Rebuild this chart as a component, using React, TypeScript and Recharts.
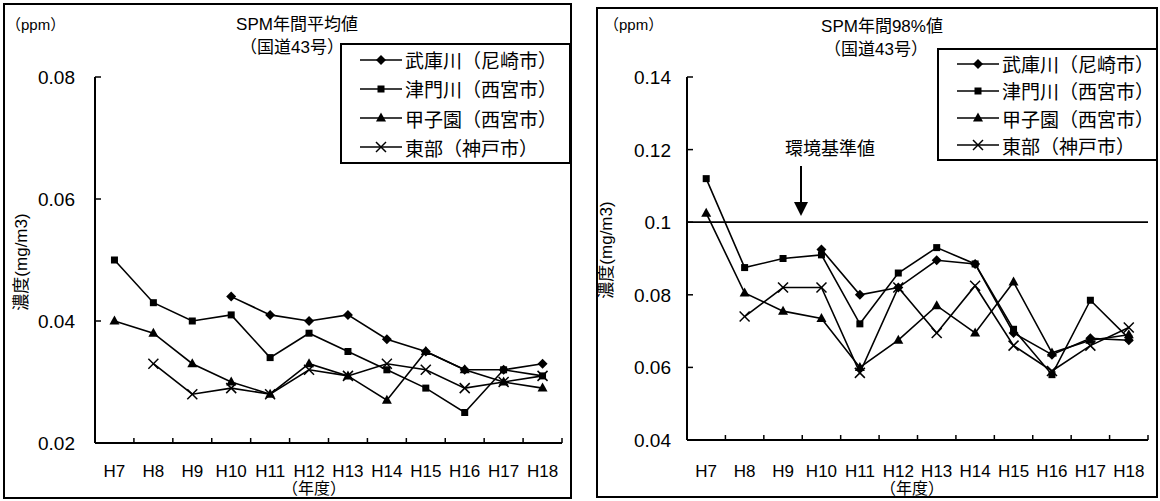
import React from 'react'
import { LineChart, Line, XAxis, YAxis, ReferenceLine } from 'recharts'

const years = ['H7', 'H8', 'H9', 'H10', 'H11', 'H12', 'H13', 'H14', 'H15', 'H16', 'H17', 'H18']
const stations = ['武庫川（尼崎市）', '津門川（西宮市）', '甲子園（西宮市）', '東部（神戸市）']
const markers = ['diamond', 'square', 'triangle', 'cross']

// SPM 年間平均値 (mg/m3)
const avgMukogawa = [null, null, null, 0.044, 0.041, 0.04, 0.041, 0.037, 0.035, 0.032, 0.032, 0.033]
const avgTsutogawa = [0.05, 0.043, 0.04, 0.041, 0.034, 0.038, 0.035, 0.032, 0.029, 0.025, 0.032, 0.031]
const avgKoshien = [0.04, 0.038, 0.033, 0.03, 0.028, 0.033, 0.031, 0.027, 0.035, 0.032, 0.03, 0.029]
const avgTobu = [null, 0.033, 0.028, 0.029, 0.028, 0.032, 0.031, 0.033, 0.032, 0.029, 0.03, 0.031]

// SPM 年間98%値 (mg/m3)
const p98Mukogawa = [null, null, null, 0.0925, 0.08, 0.082, 0.0895, 0.0885, 0.0695, 0.0635, 0.068, 0.0675]
const p98Tsutogawa = [0.112, 0.0875, 0.09, 0.091, 0.072, 0.086, 0.093, 0.0885, 0.0705, 0.058, 0.0785, 0.068]
const p98Koshien = [0.1025, 0.0805, 0.0755, 0.0735, 0.06, 0.0675, 0.077, 0.0695, 0.0835, 0.064, 0.0675, 0.069]
const p98Tobu = [null, 0.074, 0.082, 0.082, 0.0585, 0.082, 0.0695, 0.0825, 0.066, 0.059, 0.066, 0.071]

const avgTicks = [0.02, 0.04, 0.06, 0.08]
const p98Ticks = [0.04, 0.06, 0.08, 0.1, 0.12, 0.14]
const envStandard = 0.1

const latin = '"Liberation Sans", Arial, "Noto Sans CJK JP", sans-serif'

function Marker({ kind, cx, cy }: { kind: string; cx: number; cy: number }) {
  if (kind === 'diamond')
    return <polygon points={`${cx},${cy - 5} ${cx + 5},${cy} ${cx},${cy + 5} ${cx - 5},${cy}`} fill="#000" />
  if (kind === 'square') return <rect x={cx - 3.5} y={cy - 3.5} width={7} height={7} fill="#000" />
  if (kind === 'triangle')
    return <polygon points={`${cx},${cy - 5.5} ${cx + 5},${cy + 3.5} ${cx - 5},${cy + 3.5}`} fill="#000" />
  return (
    <g stroke="#000" strokeWidth={1.5}>
      <line x1={cx - 5} y1={cy - 5} x2={cx + 5} y2={cy + 5} />
      <line x1={cx - 5} y1={cy + 5} x2={cx + 5} y2={cy - 5} />
    </g>
  )
}

const dotFor = (kind: string) => (p: any) => {
  if (p.value == null || p.cy == null || isNaN(p.cy)) return <g key={p.key} />
  return (
    <g key={p.key}>
      <Marker kind={kind} cx={p.cx} cy={p.cy} />
    </g>
  )
}

const fmt = (v: number) => String(Math.round(v * 100) / 100)

function LegendBox({ left, top, width, height, fontSize }: any) {
  return (
    <div
      style={{
        position: 'absolute', left, top, width, height, border: '2px solid #000', boxSizing: 'border-box',
        background: '#fff', display: 'flex', flexDirection: 'column', justifyContent: 'space-around',
        paddingLeft: 18, fontFamily: '"Noto Sans CJK JP", sans-serif', fontSize,
      }}
    >
      {stations.map((s, i) => (
        <div key={s} style={{ display: 'flex', alignItems: 'center', lineHeight: 1 }}>
          <svg width={42} height={14} style={{ marginRight: 3 }}>
            <line x1={0} y1={7} x2={42} y2={7} stroke="#000" strokeWidth={1.6} />
            <Marker kind={markers[i]} cx={21} cy={7} />
          </svg>
          <span>{s}</span>
        </div>
      ))}
    </div>
  )
}

function SpmChart({ x, series, ticks, yWidth, xHeight, marginRight, labelGap, refLine }: any) {
  const rows = years.map((y, i) => ({ year: y, s0: series[0][i], s1: series[1][i], s2: series[2][i], s3: series[3][i] }))
  const band = (580 - yWidth - marginRight) / years.length
  const axisY = 501 - xHeight
  return (
    <div style={{ position: 'absolute', left: x, top: 0 }}>
      <LineChart width={580} height={501} data={rows} margin={{ top: 77, right: marginRight, bottom: 0, left: 0 }}>
        <XAxis
          dataKey="year"
          scale="band"
          height={xHeight}
          interval={0}
          axisLine={{ stroke: '#000', strokeWidth: 2 }}
          tickLine={false}
          tickSize={0}
          tickMargin={0}
          tick={(p: any) => (
            <g key={p.index}>
              <line x1={p.x + band / 2} x2={p.x + band / 2} y1={axisY} y2={axisY - 5} stroke="#000" strokeWidth={1.5} />
              <text x={p.x} y={477} textAnchor="middle" fontSize={17} fontFamily={latin} fill="#000">
                {p.payload.value}
              </text>
            </g>
          )}
        />
        <YAxis
          type="number"
          domain={[ticks[0], ticks[ticks.length - 1]]}
          ticks={ticks}
          interval={0}
          width={yWidth}
          axisLine={{ stroke: '#000', strokeWidth: 2 }}
          tickLine={false}
          tickSize={0}
          tickMargin={0}
          tick={(p: any) => (
            <g key={p.index}>
              <line x1={p.x} x2={p.x + 6} y1={p.y} y2={p.y} stroke="#000" strokeWidth={1.5} />
              <text x={p.x - labelGap} y={p.y + 7} textAnchor="end" fontSize={19} fontFamily={latin} fill="#000">
                {fmt(p.payload.value)}
              </text>
            </g>
          )}
        />
        {refLine != null && <ReferenceLine y={refLine} stroke="#000" strokeWidth={1.8} />}
        {markers.map((m, i) => (
          <Line
            key={m}
            type="linear"
            dataKey={`s${i}`}
            stroke="#000"
            strokeWidth={1.6}
            dot={dotFor(m)}
            activeDot={false}
            connectNulls={false}
            isAnimationActive={false}
          />
        ))}
      </LineChart>
    </div>
  )
}

const txt = (extra: any): any => ({
  position: 'absolute', whiteSpace: 'nowrap', fontFamily: latin, color: '#000', lineHeight: 1, ...extra,
})

export default function App() {
  return (
    <div style={{ position: 'absolute', left: 0, top: 0, width: 1160, height: 501, background: '#fff', overflow: 'hidden' }}>
      <SpmChart
        x={0}
        series={[avgMukogawa, avgTsutogawa, avgKoshien, avgTobu]}
        ticks={avgTicks}
        yWidth={95}
        xHeight={58}
        marginRight={18}
        labelGap={20}
      />
      <SpmChart
        x={580}
        series={[p98Mukogawa, p98Tsutogawa, p98Koshien, p98Tobu]}
        ticks={p98Ticks}
        yWidth={107}
        xHeight={61}
        marginRight={12}
        labelGap={16}
        refLine={envStandard}
      />

      {/* panel frames */}
      <div style={{ position: 'absolute', left: 3, top: 3, width: 569, height: 496, border: '2px solid #000', boxSizing: 'border-box' }} />
      <div style={{ position: 'absolute', left: 596, top: 7, width: 562, height: 491, border: '2px solid #000', boxSizing: 'border-box' }} />

      {/* left texts */}
      <div style={txt({ left: 6, top: 17, fontSize: 15 })}>（ppm）</div>
      <div style={txt({ left: 297, top: 16, fontSize: 17, transform: 'translateX(-50%)' })}>SPM年間平均値</div>
      <div style={txt({ left: 292, top: 39, fontSize: 17, transform: 'translateX(-50%)' })}>（国道43号）</div>
      <div style={txt({ left: 21, top: 262, fontSize: 17, transform: 'translate(-50%,-50%) rotate(-90deg)' })}>濃度(mg/m3)</div>
      <div style={txt({ left: 314, top: 481, fontSize: 16, transform: 'translateX(-50%)' })}>（年度）</div>
      <LegendBox left={340} top={43} width={231} height={121} fontSize={19} />

      {/* right texts */}
      <div style={txt({ left: 604, top: 17, fontSize: 15 })}>（ppm）</div>
      <div style={txt({ left: 882, top: 18, fontSize: 17, transform: 'translateX(-50%)' })}>SPM年間98%値</div>
      <div style={txt({ left: 876, top: 41, fontSize: 17, transform: 'translateX(-50%)' })}>（国道43号）</div>
      <div style={txt({ left: 606, top: 250, fontSize: 17, transform: 'translate(-50%,-50%) rotate(-90deg)' })}>濃度(mg/m3)</div>
      <div style={txt({ left: 912, top: 481, fontSize: 16, transform: 'translateX(-50%)' })}>（年度）</div>
      <div style={txt({ left: 830, top: 140, fontSize: 18, transform: 'translateX(-50%)' })}>環境基準値</div>
      <svg style={{ position: 'absolute', left: 790, top: 166 }} width={22} height={52}>
        <line x1={11} y1={0} x2={11} y2={40} stroke="#000" strokeWidth={2} />
        <polygon points="4,36 18,36 11,50" fill="#000" />
      </svg>
      <LegendBox left={937} top={48} width={221} height={113} fontSize={19} />
    </div>
  )
}
